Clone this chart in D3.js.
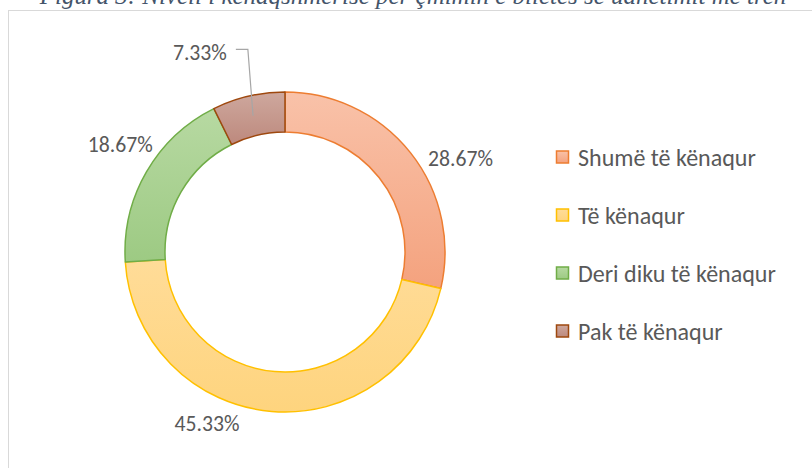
<!DOCTYPE html>
<html>
<head>
<meta charset="utf-8">
<script src="https://cdn.jsdelivr.net/npm/d3@7"></script>
<style>
  body { margin: 0; background: #fff; }
  svg { display: block; }
</style>
</head>
<body>
<div id="chart"></div>
<script>
// data
const categories = ["Shumë të kënaqur", "Të kënaqur", "Deri diku të kënaqur", "Pak të kënaqur"];
const values = [28.67, 45.33, 18.67, 7.33];
const valueLabels = ["28.67%", "45.33%", "18.67%", "7.33%"];
const title = "Figura 3: Niveli i kënaqshmërisë për çmimin e biletës së udhëtimit me tren";

// styling
const strokeColors = ["#ED7D31", "#FFC000", "#70AD47", "#9E480E"];
const gradTop = ["#F9C2A9", "#FFDC98", "#B7D9A2", "#CEA89E"];
const gradBottom = ["#F4A27E", "#FED47E", "#9DCA83", "#BD897D"];

const CONFIGS = {
  width: 812,
  height: 468,
  cx: 285,
  cy: 252,
  outer: 160,
  inner: 120,
  labelFont: "Carlito, Lato, 'Open Sans', sans-serif",
  labelColor: "#595959",
  // label placement: angle shift (deg) and radius, mimicking excel's best fit
  labelPlace: [
    { shift: 10.3, r: 199 },
    { shift: 19.7, r: 188 },
    { shift: 3.2, r: 197 },
    { shift: -9.9, r: 217 }
  ],
  legend: { x: 556, y0: 157, step: 58, box: 12 }
};

const svg = d3.select("#chart").append("svg")
  .attr("width", CONFIGS.width)
  .attr("height", CONFIGS.height);

// chart frame (right and bottom edges are outside the picture)
svg.append("rect")
  .attr("x", 8.5).attr("y", 10.5)
  .attr("width", 900).attr("height", 600)
  .attr("fill", "#fff")
  .attr("stroke", "#D9D9D9")
  .attr("stroke-width", 1);

// title, clipped at the top edge
const titleText = svg.append("text")
  .attr("x", 413)
  .attr("y", 4)
  .attr("text-anchor", "middle")
  .attr("font-family", "'Liberation Serif', 'DejaVu Serif', serif")
  .attr("font-style", "italic")
  .attr("font-size", 20)
  .attr("fill", "#44546A")
  .text(title);
const tw = titleText.node().getComputedTextLength();
titleText.attr("font-size", 20 * 747 / tw);

// gradients
const defs = svg.append("defs");
categories.forEach((c, i) => {
  const g = defs.append("linearGradient")
    .attr("id", "grad" + i)
    .attr("x1", 0).attr("y1", 0).attr("x2", 0).attr("y2", 1);
  g.append("stop").attr("offset", "0%").attr("stop-color", gradTop[i]);
  g.append("stop").attr("offset", "100%").attr("stop-color", gradBottom[i]);
});

const pie = d3.pie().sort(null).value(d => d);
const arcs = pie(values);
const arc = d3.arc().innerRadius(CONFIGS.inner).outerRadius(CONFIGS.outer);
const midArc = d3.arc().innerRadius((CONFIGS.inner + CONFIGS.outer) / 2).outerRadius((CONFIGS.inner + CONFIGS.outer) / 2);

const g = svg.append("g")
  .attr("transform", `translate(${CONFIGS.cx},${CONFIGS.cy})`);

g.selectAll("path")
  .data(arcs)
  .join("path")
  .attr("d", arc)
  .attr("fill", (d, i) => `url(#grad${i})`)
  .attr("stroke", (d, i) => strokeColors[i])
  .attr("stroke-width", 1.5)
  .attr("stroke-linejoin", "round");

// data labels
const labelSize = 20;
const labels = g.selectAll("text.val")
  .data(arcs)
  .join("text")
  .attr("class", "val")
  .attr("text-anchor", "middle")
  .attr("dominant-baseline", "central")
  .attr("font-family", CONFIGS.labelFont)
  .attr("font-size", labelSize)
  .attr("fill", CONFIGS.labelColor)
  .attr("transform", (d, i) => {
    const p = CONFIGS.labelPlace[i];
    const a = (d.startAngle + d.endAngle) / 2 + p.shift * Math.PI / 180;
    return `translate(${p.r * Math.sin(a)},${-p.r * Math.cos(a)})`;
  })
  .text((d, i) => valueLabels[i]);

// fit label font so "28.67%" is ~65px wide
const lw = labels.node().getComputedTextLength();
labels.attr("font-size", labelSize * 65 / lw);

// leader line for the small slice
labels.each(function (d, i) {
  if (i !== 3) return;
  const bb = this.getBBox();
  const t = d3.select(this).attr("transform").match(/translate\(([-\d.]+),([-\d.]+)\)/);
  const lx = +t[1], ly = +t[2];
  const right = lx + bb.width / 2 + 9;
  const [mx, my] = midArc.centroid(d);
  g.append("polyline")
    .attr("points", [[right, ly - 3], [right + 12, ly - 3], [mx, my]].map(p => p.join(",")).join(" "))
    .attr("fill", "none")
    .attr("stroke", "#A6A6A6")
    .attr("stroke-width", 1.2);
});

// legend
const L = CONFIGS.legend;
const leg = svg.append("g");
const items = leg.selectAll("g")
  .data(categories)
  .join("g")
  .attr("transform", (d, i) => `translate(${L.x},${L.y0 + i * L.step})`);
items.append("rect")
  .attr("x", 0.5).attr("y", -L.box / 2)
  .attr("width", L.box).attr("height", L.box)
  .attr("fill", (d, i) => `url(#grad${i})`)
  .attr("stroke", (d, i) => strokeColors[i])
  .attr("stroke-width", 1.5);
const legText = items.append("text")
  .attr("x", 22)
  .attr("dominant-baseline", "central")
  .attr("font-family", CONFIGS.labelFont)
  .attr("font-size", 18)
  .attr("fill", CONFIGS.labelColor)
  .text(d => d);
const ltw = legText.node().getComputedTextLength();
legText.attr("font-size", 18 * 178 / ltw);
</script>
</body>
</html>
